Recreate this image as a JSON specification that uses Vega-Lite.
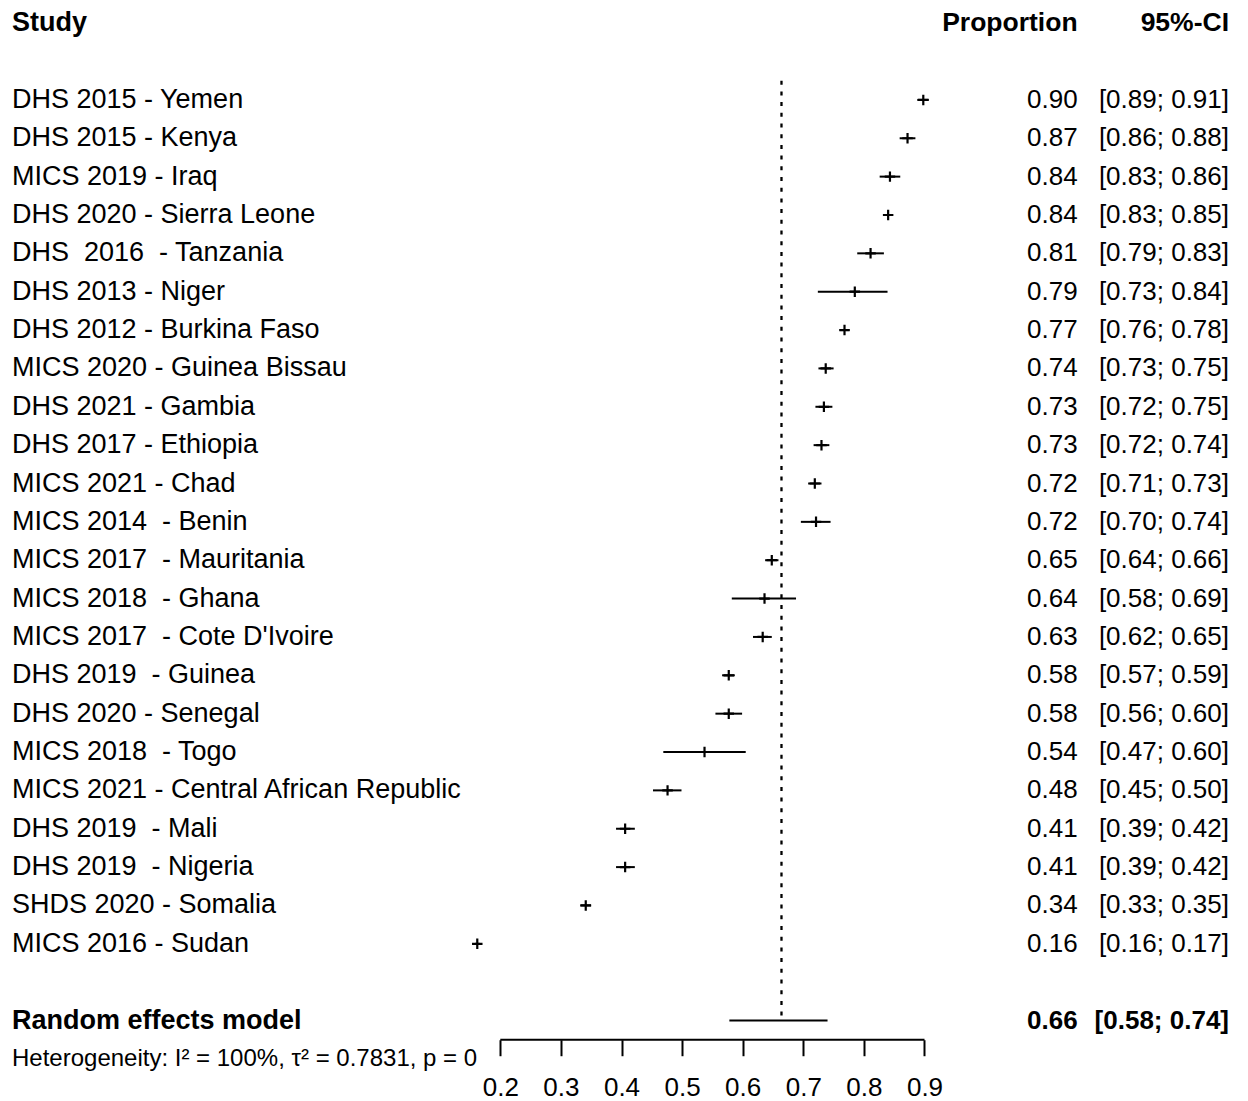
{
  "$schema": "https://vega.github.io/schema/vega-lite/v6.json",
  "background": "white",
  "padding": {"left": 12, "top": 4, "right": 10, "bottom": 5},
  "spacing": 0,
  "bounds": "flush",
  "config": {
    "view": {"stroke": null},
    "font": "Liberation Sans",
    "text": {"font": "Liberation Sans", "fontSize": 26, "color": "black", "baseline": "middle"},
    "axisX": {"domain": false, "grid": false, "tickSize": 16, "tickWidth": 2, "tickColor": "black", "labelFontSize": 26, "labelColor": "black", "labelFont": "Liberation Sans", "labelPadding": 19, "labelFlush": false, "labelOverlap": false}
  },
  "datasets": {
    "studies": [
      {"row": "DHS 2015 - Yemen", "est": 0.898, "lo": 0.888, "hi": 0.907, "estLabel": "0.90", "ciLabel": "[0.89; 0.91]"},
      {"row": "DHS 2015 - Kenya", "est": 0.872, "lo": 0.859, "hi": 0.885, "estLabel": "0.87", "ciLabel": "[0.86; 0.88]"},
      {"row": "MICS 2019 - Iraq", "est": 0.843, "lo": 0.826, "hi": 0.860, "estLabel": "0.84", "ciLabel": "[0.83; 0.86]"},
      {"row": "DHS 2020 - Sierra Leone", "est": 0.840, "lo": 0.833, "hi": 0.847, "estLabel": "0.84", "ciLabel": "[0.83; 0.85]"},
      {"row": "DHS \u00a02016 \u00a0- Tanzania", "est": 0.811, "lo": 0.789, "hi": 0.833, "estLabel": "0.81", "ciLabel": "[0.79; 0.83]"},
      {"row": "DHS 2013 - Niger", "est": 0.785, "lo": 0.724, "hi": 0.839, "estLabel": "0.79", "ciLabel": "[0.73; 0.84]"},
      {"row": "DHS 2012 - Burkina Faso", "est": 0.768, "lo": 0.760, "hi": 0.776, "estLabel": "0.77", "ciLabel": "[0.76; 0.78]"},
      {"row": "MICS 2020 - Guinea Bissau", "est": 0.737, "lo": 0.725, "hi": 0.750, "estLabel": "0.74", "ciLabel": "[0.73; 0.75]"},
      {"row": "DHS 2021 - Gambia", "est": 0.734, "lo": 0.720, "hi": 0.748, "estLabel": "0.73", "ciLabel": "[0.72; 0.75]"},
      {"row": "DHS 2017 - Ethiopia", "est": 0.730, "lo": 0.717, "hi": 0.743, "estLabel": "0.73", "ciLabel": "[0.72; 0.74]"},
      {"row": "MICS 2021 - Chad", "est": 0.719, "lo": 0.708, "hi": 0.730, "estLabel": "0.72", "ciLabel": "[0.71; 0.73]"},
      {"row": "MICS 2014 \u00a0- Benin", "est": 0.721, "lo": 0.696, "hi": 0.745, "estLabel": "0.72", "ciLabel": "[0.70; 0.74]"},
      {"row": "MICS 2017 \u00a0- Mauritania", "est": 0.648, "lo": 0.637, "hi": 0.659, "estLabel": "0.65", "ciLabel": "[0.64; 0.66]"},
      {"row": "MICS 2018 \u00a0- Ghana", "est": 0.636, "lo": 0.582, "hi": 0.688, "estLabel": "0.64", "ciLabel": "[0.58; 0.69]"},
      {"row": "MICS 2017 \u00a0- Cote D'Ivoire", "est": 0.633, "lo": 0.617, "hi": 0.648, "estLabel": "0.63", "ciLabel": "[0.62; 0.65]"},
      {"row": "DHS 2019 \u00a0- Guinea", "est": 0.577, "lo": 0.566, "hi": 0.587, "estLabel": "0.58", "ciLabel": "[0.57; 0.59]"},
      {"row": "DHS 2020 - Senegal", "est": 0.577, "lo": 0.555, "hi": 0.599, "estLabel": "0.58", "ciLabel": "[0.56; 0.60]"},
      {"row": "MICS 2018 \u00a0- Togo", "est": 0.537, "lo": 0.469, "hi": 0.605, "estLabel": "0.54", "ciLabel": "[0.47; 0.60]"},
      {"row": "MICS 2021 - Central African Republic", "est": 0.476, "lo": 0.452, "hi": 0.499, "estLabel": "0.48", "ciLabel": "[0.45; 0.50]"},
      {"row": "DHS 2019 \u00a0- Mali", "est": 0.406, "lo": 0.391, "hi": 0.422, "estLabel": "0.41", "ciLabel": "[0.39; 0.42]"},
      {"row": "DHS 2019 \u00a0- Nigeria", "est": 0.406, "lo": 0.391, "hi": 0.422, "estLabel": "0.41", "ciLabel": "[0.39; 0.42]"},
      {"row": "SHDS 2020 - Somalia", "est": 0.341, "lo": 0.332, "hi": 0.350, "estLabel": "0.34", "ciLabel": "[0.33; 0.35]"},
      {"row": "MICS 2016 - Sudan", "est": 0.162, "lo": 0.158, "hi": 0.166, "estLabel": "0.16", "ciLabel": "[0.16; 0.17]"}
    ],
    "pooled": [
      {"row": "Random effects model", "est": 0.664, "lo": 0.578, "hi": 0.740, "estLabel": "0.66", "ciLabel": "[0.58; 0.74]", "axisFrom": 0.2, "axisTo": 0.9}
    ]
  },
  "hconcat": [
    {
      "width": 457.7,
      "height": {"step": 38.36},
      "encoding": {
        "y": {"field": "row", "type": "nominal", "axis": null, "sort": null,
          "scale": {"type": "band", "paddingInner": 0, "paddingOuter": 0,
            "domain": ["header", "gap1", "DHS 2015 - Yemen", "DHS 2015 - Kenya", "MICS 2019 - Iraq", "DHS 2020 - Sierra Leone", "DHS \u00a02016 \u00a0- Tanzania", "DHS 2013 - Niger", "DHS 2012 - Burkina Faso", "MICS 2020 - Guinea Bissau", "DHS 2021 - Gambia", "DHS 2017 - Ethiopia", "MICS 2021 - Chad", "MICS 2014 \u00a0- Benin", "MICS 2017 \u00a0- Mauritania", "MICS 2018 \u00a0- Ghana", "MICS 2017 \u00a0- Cote D'Ivoire", "DHS 2019 \u00a0- Guinea", "DHS 2020 - Senegal", "MICS 2018 \u00a0- Togo", "MICS 2021 - Central African Republic", "DHS 2019 \u00a0- Mali", "DHS 2019 \u00a0- Nigeria", "SHDS 2020 - Somalia", "MICS 2016 - Sudan", "gap2", "Random effects model", "Heterogeneity"]}}
      },
      "layer": [
        {"data": {"values": [{"row": "header", "label": "Study"}]},
         "mark": {"type": "text", "align": "left", "fontWeight": "bold", "fontSize": 27},
         "encoding": {"x": {"value": 0}, "text": {"field": "label"}}},
        {"data": {"name": "studies"},
         "mark": {"type": "text", "align": "left", "fontSize": 27},
         "encoding": {"x": {"value": 0}, "text": {"field": "row"}}},
        {"data": {"name": "pooled"},
         "mark": {"type": "text", "align": "left", "fontWeight": "bold", "fontSize": 27},
         "encoding": {"x": {"value": 0}, "text": {"field": "row"}}},
        {"data": {"values": [{"row": "Heterogeneity", "label": "Heterogeneity: I² = 100%, τ² = 0.7831, p = 0"}]},
         "mark": {"type": "text", "align": "left", "fontSize": 24},
         "encoding": {"x": {"value": 0}, "text": {"field": "label"}}}
      ]
    },
    {
      "width": 472.68,
      "height": {"step": 38.36},
      "encoding": {
        "y": {"field": "row", "type": "nominal", "axis": null, "sort": null,
          "scale": {"type": "band", "paddingInner": 0, "paddingOuter": 0,
            "domain": ["header", "gap1", "DHS 2015 - Yemen", "DHS 2015 - Kenya", "MICS 2019 - Iraq", "DHS 2020 - Sierra Leone", "DHS \u00a02016 \u00a0- Tanzania", "DHS 2013 - Niger", "DHS 2012 - Burkina Faso", "MICS 2020 - Guinea Bissau", "DHS 2021 - Gambia", "DHS 2017 - Ethiopia", "MICS 2021 - Chad", "MICS 2014 \u00a0- Benin", "MICS 2017 \u00a0- Mauritania", "MICS 2018 \u00a0- Ghana", "MICS 2017 \u00a0- Cote D'Ivoire", "DHS 2019 \u00a0- Guinea", "DHS 2020 - Senegal", "MICS 2018 \u00a0- Togo", "MICS 2021 - Central African Republic", "DHS 2019 \u00a0- Mali", "DHS 2019 \u00a0- Nigeria", "SHDS 2020 - Somalia", "MICS 2016 - Sudan", "gap2", "Random effects model"]}}
      },
      "layer": [
        {"data": {"name": "pooled"},
         "mark": {"type": "rule", "color": "black", "strokeWidth": 2.3, "strokeDash": [4, 6.7]},
         "encoding": {
           "x": {"field": "est", "type": "quantitative", "scale": {"domain": [0.15, 0.93], "nice": false, "zero": false}, "axis": {"values": [0.2, 0.3, 0.4, 0.5, 0.6, 0.7, 0.8, 0.9], "format": ".1f", "title": null}},
           "y": {"datum": "DHS 2015 - Yemen", "type": "nominal", "bandPosition": 0},
           "y2": {"datum": "Random effects model"}
         }},
        {"data": {"name": "studies"},
         "mark": {"type": "rule", "color": "black", "strokeWidth": 2},
         "encoding": {
           "x": {"field": "lo", "type": "quantitative", "scale": {"domain": [0.15, 0.93], "nice": false, "zero": false}, "axis": {"values": [0.2, 0.3, 0.4, 0.5, 0.6, 0.7, 0.8, 0.9], "format": ".1f", "title": null}},
           "x2": {"field": "hi"}
         }},
        {"data": {"name": "studies"},
         "mark": {"type": "point", "shape": "M-1,0H1M0,-1V1", "size": 110, "filled": false, "color": "black", "strokeWidth": 2.2, "opacity": 1},
         "encoding": {
           "x": {"field": "est", "type": "quantitative", "scale": {"domain": [0.15, 0.93], "nice": false, "zero": false}, "axis": {"values": [0.2, 0.3, 0.4, 0.5, 0.6, 0.7, 0.8, 0.9], "format": ".1f", "title": null}}
         }},
        {"data": {"name": "pooled"},
         "mark": {"type": "rule", "color": "black", "strokeWidth": 2},
         "encoding": {
           "x": {"field": "lo", "type": "quantitative", "scale": {"domain": [0.15, 0.93], "nice": false, "zero": false}, "axis": {"values": [0.2, 0.3, 0.4, 0.5, 0.6, 0.7, 0.8, 0.9], "format": ".1f", "title": null}},
           "x2": {"field": "hi"}
         }},
        {"data": {"name": "pooled"},
         "mark": {"type": "rule", "color": "black", "strokeWidth": 2},
         "encoding": {
           "x": {"field": "axisFrom", "type": "quantitative", "scale": {"domain": [0.15, 0.93], "nice": false, "zero": false}, "axis": {"values": [0.2, 0.3, 0.4, 0.5, 0.6, 0.7, 0.8, 0.9], "format": ".1f", "title": null}},
           "x2": {"field": "axisTo"},
           "y": {"value": "height"}
         }}
      ]
    },
    {
      "width": 134.6,
      "height": {"step": 38.36},
      "encoding": {
        "y": {"field": "row", "type": "nominal", "axis": null, "sort": null,
          "scale": {"type": "band", "paddingInner": 0, "paddingOuter": 0,
            "domain": ["header", "gap1", "DHS 2015 - Yemen", "DHS 2015 - Kenya", "MICS 2019 - Iraq", "DHS 2020 - Sierra Leone", "DHS \u00a02016 \u00a0- Tanzania", "DHS 2013 - Niger", "DHS 2012 - Burkina Faso", "MICS 2020 - Guinea Bissau", "DHS 2021 - Gambia", "DHS 2017 - Ethiopia", "MICS 2021 - Chad", "MICS 2014 \u00a0- Benin", "MICS 2017 \u00a0- Mauritania", "MICS 2018 \u00a0- Ghana", "MICS 2017 \u00a0- Cote D'Ivoire", "DHS 2019 \u00a0- Guinea", "DHS 2020 - Senegal", "MICS 2018 \u00a0- Togo", "MICS 2021 - Central African Republic", "DHS 2019 \u00a0- Mali", "DHS 2019 \u00a0- Nigeria", "SHDS 2020 - Somalia", "MICS 2016 - Sudan", "gap2", "Random effects model"]}}
      },
      "layer": [
        {"data": {"values": [{"row": "header", "label": "Proportion"}]},
         "mark": {"type": "text", "align": "right", "fontWeight": "bold", "fontSize": 26.5},
         "encoding": {"x": {"value": "width"}, "text": {"field": "label"}}},
        {"data": {"name": "studies"},
         "mark": {"type": "text", "align": "right"},
         "encoding": {"x": {"value": "width"}, "text": {"field": "estLabel"}}},
        {"data": {"name": "pooled"},
         "mark": {"type": "text", "align": "right", "fontWeight": "bold"},
         "encoding": {"x": {"value": "width"}, "text": {"field": "estLabel"}}}
      ]
    },
    {
      "width": 151,
      "height": {"step": 38.36},
      "encoding": {
        "y": {"field": "row", "type": "nominal", "axis": null, "sort": null,
          "scale": {"type": "band", "paddingInner": 0, "paddingOuter": 0,
            "domain": ["header", "gap1", "DHS 2015 - Yemen", "DHS 2015 - Kenya", "MICS 2019 - Iraq", "DHS 2020 - Sierra Leone", "DHS \u00a02016 \u00a0- Tanzania", "DHS 2013 - Niger", "DHS 2012 - Burkina Faso", "MICS 2020 - Guinea Bissau", "DHS 2021 - Gambia", "DHS 2017 - Ethiopia", "MICS 2021 - Chad", "MICS 2014 \u00a0- Benin", "MICS 2017 \u00a0- Mauritania", "MICS 2018 \u00a0- Ghana", "MICS 2017 \u00a0- Cote D'Ivoire", "DHS 2019 \u00a0- Guinea", "DHS 2020 - Senegal", "MICS 2018 \u00a0- Togo", "MICS 2021 - Central African Republic", "DHS 2019 \u00a0- Mali", "DHS 2019 \u00a0- Nigeria", "SHDS 2020 - Somalia", "MICS 2016 - Sudan", "gap2", "Random effects model"]}}
      },
      "layer": [
        {"data": {"values": [{"row": "header", "label": "95%-CI"}]},
         "mark": {"type": "text", "align": "right", "fontWeight": "bold", "fontSize": 26.5},
         "encoding": {"x": {"value": "width"}, "text": {"field": "label"}}},
        {"data": {"name": "studies"},
         "mark": {"type": "text", "align": "right"},
         "encoding": {"x": {"value": "width"}, "text": {"field": "ciLabel"}}},
        {"data": {"name": "pooled"},
         "mark": {"type": "text", "align": "right", "fontWeight": "bold"},
         "encoding": {"x": {"value": "width"}, "text": {"field": "ciLabel"}}}
      ]
    }
  ]
}
